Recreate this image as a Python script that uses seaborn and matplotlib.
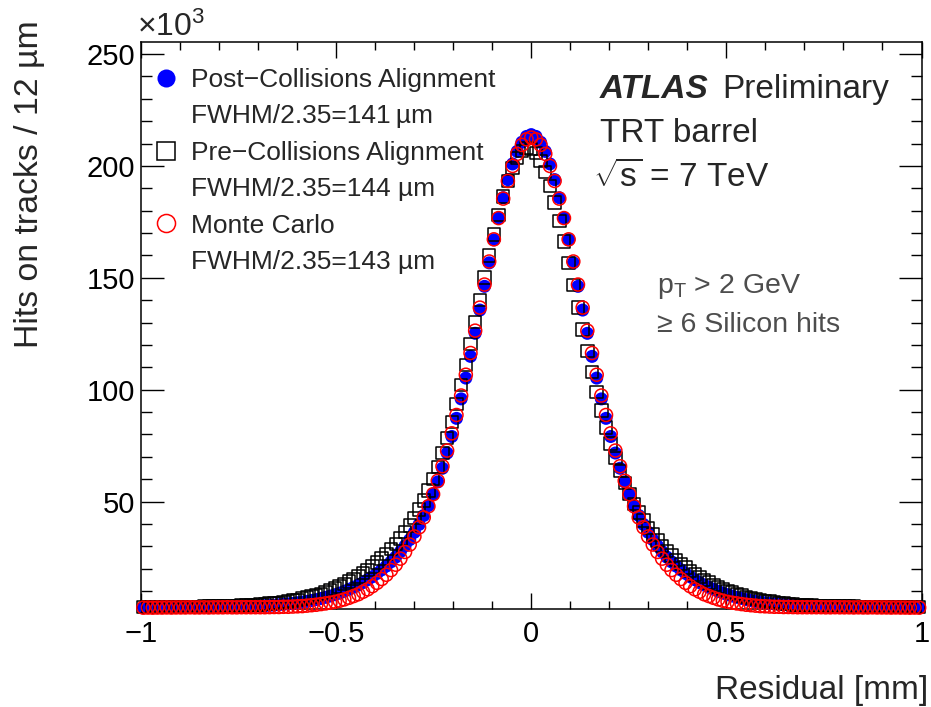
import numpy as np
import pandas as pd
import matplotlib
matplotlib.use("Agg")
import matplotlib.pyplot as plt
import seaborn as sns
from matplotlib.lines import Line2D
from matplotlib.ticker import MultipleLocator, FixedLocator, FixedFormatter

# ---------------- data (thousands of hits per 12 um bin) ----------------
n_bins = 167
x_range = (-1.0, 1.0)

post_counts = [
    2.7, 2.7, 2.7, 2.75, 2.75, 2.75, 2.8, 2.8, 2.8, 2.8, 2.8, 2.85, 2.85,
    2.85, 2.9, 2.9, 2.9, 2.95, 3.0, 3.0, 3.05, 3.1, 3.15,
    3.2, 3.3, 3.4, 3.5, 3.6, 3.7, 3.9, 4.1, 4.3, 4.5,
    4.8, 5.1, 5.4, 5.8, 6.2, 6.7, 7.2, 7.8, 8.4, 9.1,
    9.9, 10.8, 11.7, 12.7, 13.8, 15.1, 16.4, 17.9, 19.5, 21.2,
    23.1, 25.2, 27.6, 30.2, 33.0, 36.3, 39.8, 43.8, 48.2, 53.2,
    58.8, 64.9, 71.7, 79.1, 87.2, 95.9, 105.2, 114.9, 125.2, 135.6,
    146.2, 156.7, 167.0, 176.8, 185.8, 193.9, 200.9, 206.5, 210.6, 213.2,
    214.0,
    213.2, 210.6, 206.5, 200.9, 193.9, 185.8, 176.8, 167.0, 156.7, 146.2,
    135.6, 125.2, 114.9, 105.2, 95.9, 87.2, 79.1, 71.7, 64.9, 58.8,
    53.2, 48.2, 43.8, 39.8, 36.3, 33.0, 30.2, 27.6, 25.2, 23.1,
    21.2, 19.5, 17.9, 16.4, 15.1, 13.8, 12.7, 11.7, 10.8, 9.9,
    9.1, 8.4, 7.8, 7.2, 6.7, 6.2, 5.8, 5.4, 5.1, 4.8,
    4.5, 4.3, 4.1, 3.9, 3.7, 3.6, 3.5, 3.4, 3.3, 3.2,
    3.15, 3.1, 3.05, 3.0, 3.0, 2.95, 2.9, 2.9, 2.9, 2.85,
    2.85, 2.85, 2.8, 2.8, 2.8, 2.8, 2.8, 2.75, 2.75, 2.75, 2.7, 2.7, 2.7,
]

pre_counts = [
    2.8, 2.85, 2.85, 2.85, 2.9, 2.9, 2.9, 2.9, 2.95, 2.95, 3.0, 3.0, 3.0,
    3.05, 3.1, 3.1, 3.15, 3.2, 3.25, 3.3, 3.4, 3.5, 3.6,
    3.7, 3.8, 4.0, 4.2, 4.4, 4.6, 4.8, 5.1, 5.4, 5.8,
    6.1, 6.6, 7.1, 7.6, 8.2, 8.8, 9.5, 10.3, 11.2, 12.1,
    13.1, 14.2, 15.4, 16.6, 18.0, 19.5, 21.0, 22.7, 24.6, 26.5,
    28.7, 31.0, 33.5, 36.3, 39.3, 42.7, 46.4, 50.4, 55.0, 60.0,
    65.5, 71.6, 78.3, 85.6, 93.5, 102.0, 111.0, 120.4, 130.2, 140.2,
    150.1, 160.0, 169.4, 178.2, 186.3, 193.3, 199.2, 203.6, 206.6, 207.9,
    207.6,
    205.7, 202.3, 197.4, 191.1, 183.7, 175.4, 166.3, 156.7, 146.8, 136.8,
    126.9, 117.2, 107.9, 99.1, 90.8, 83.1, 76.0, 69.5, 63.6, 58.2,
    53.4, 49.0, 45.1, 41.5, 38.3, 35.3, 32.7, 30.2, 27.9, 25.9,
    23.9, 22.2, 20.5, 19.0, 17.5, 16.2, 15.0, 13.8, 12.7, 11.8,
    10.9, 10.0, 9.3, 8.6, 8.0, 7.4, 6.9, 6.4, 6.0, 5.6,
    5.3, 5.0, 4.7, 4.5, 4.3, 4.1, 3.9, 3.8, 3.65, 3.55,
    3.45, 3.4, 3.3, 3.25, 3.2, 3.15, 3.1, 3.05, 3.05, 3.0,
    3.0, 2.95, 2.95, 2.95, 2.9, 2.9, 2.9, 2.9, 2.85, 2.85, 2.85, 2.8, 2.8,
]

mc_counts = [
    2.6, 2.65, 2.6, 2.65, 2.65, 2.7, 2.65, 2.7, 2.7, 2.7, 2.75, 2.7, 2.7,
    2.75, 2.7, 2.75, 2.75, 2.75, 2.8, 2.75, 2.75, 2.8, 2.8,
    2.8, 2.8, 2.8, 2.8, 2.85, 2.9, 2.9, 3.0, 3.0, 3.1,
    3.2, 3.3, 3.5, 3.7, 3.9, 4.2, 4.5, 4.8, 5.2, 5.7,
    6.3, 7.0, 7.8, 8.6, 9.7, 10.8, 12.2, 13.7, 15.4, 17.3,
    19.4, 21.8, 24.5, 27.5, 30.8, 34.4, 38.5, 42.9, 47.9, 53.3,
    59.3, 65.8, 72.8, 80.5, 88.7, 97.4, 106.7, 116.4, 126.4, 136.7,
    147.0, 157.3, 167.2, 176.7, 185.4, 193.3, 200.0, 205.4, 209.4, 211.9,
    212.7,
    211.9, 209.4, 205.4, 200.0, 193.3, 185.4, 176.7, 167.2, 157.3, 147.0,
    136.7, 126.4, 116.4, 106.7, 97.4, 88.7, 80.5, 72.8, 65.8, 59.3,
    53.3, 47.9, 42.9, 38.5, 34.4, 30.8, 27.5, 24.5, 21.8, 19.4,
    17.3, 15.4, 13.7, 12.2, 10.8, 9.7, 8.6, 7.8, 7.0, 6.3,
    5.7, 5.2, 4.8, 4.5, 4.2, 3.9, 3.7, 3.5, 3.3, 3.2,
    3.1, 3.0, 3.0, 2.9, 2.9, 2.85, 2.8, 2.8, 2.8, 2.8,
    2.8, 2.8, 2.75, 2.75, 2.8, 2.75, 2.75, 2.75, 2.7, 2.75,
    2.7, 2.7, 2.75, 2.7, 2.7, 2.7, 2.65, 2.7, 2.65, 2.65, 2.6, 2.65, 2.6,
]

series_names = ["Post\u2212Collisions Alignment", "Pre\u2212Collisions Alignment", "Monte Carlo"]
fwhm_texts = ["FWHM/2.35=141\u2009\u00b5m", "FWHM/2.35=144 \u00b5m", "FWHM/2.35=143 \u00b5m"]
xtick_values = [-1.0, -0.5, 0.0, 0.5, 1.0]
xtick_labels = ["\u22121", "\u22120.5", "0", "0.5", "1"]
ytick_values = [50, 100, 150, 200, 250]

assert len(post_counts) == n_bins and len(pre_counts) == n_bins and len(mc_counts) == n_bins

# ---------------- style ----------------
sns.set_style("ticks")
plt.rcParams["font.family"] = ["Liberation Sans", "DejaVu Sans"]
plt.rcParams["mathtext.fontset"] = "custom"
plt.rcParams["mathtext.rm"] = "Liberation Sans"
plt.rcParams["mathtext.it"] = "Liberation Sans:italic"
plt.rcParams["mathtext.bf"] = "Liberation Sans:bold"
plt.rcParams["axes.unicode_minus"] = True

W, H = 931, 707
fig = plt.figure(figsize=(W / 100, H / 100), dpi=100)
ax_left, ax_right, ax_top, ax_bottom = 141, 921.5, 42, 609
ax = fig.add_axes([ax_left / W, 1 - ax_bottom / H, (ax_right - ax_left) / W, (ax_bottom - ax_top) / H])

edges = np.linspace(x_range[0], x_range[1], n_bins + 1)
centers = 0.5 * (edges[:-1] + edges[1:])
df = pd.DataFrame({"residual": centers, "post": post_counts, "pre": pre_counts, "mc": mc_counts})

sns.scatterplot(data=df, x="residual", y="post", ax=ax, marker="o", s=88,
                color="#0000ff", edgecolor="none", linewidth=0, clip_on=False, zorder=3, legend=False)
sns.scatterplot(data=df, x="residual", y="pre", ax=ax, marker="s", s=80,
                color="black", facecolor="none", edgecolor="black", linewidth=1.1,
                clip_on=False, zorder=4, legend=False)
sns.scatterplot(data=df, x="residual", y="mc", ax=ax, marker="o", s=88,
                color="#ff0000", facecolor="none", edgecolor="#ff0000", linewidth=1.1,
                clip_on=False, zorder=5, legend=False)

# ---------------- axes ----------------
ax.set_xlim(*x_range)
ax.set_ylim(2.0, 255.4)
ax.xaxis.set_major_locator(FixedLocator(xtick_values))
ax.xaxis.set_major_formatter(FixedFormatter(xtick_labels))
ax.xaxis.set_minor_locator(MultipleLocator(0.1))
ax.yaxis.set_major_locator(FixedLocator(ytick_values))
ax.yaxis.set_minor_locator(MultipleLocator(10))
ax.tick_params(which="both", direction="in", top=True, right=True, labelsize=21,
               width=1.0, color="black", labelcolor="black")
ax.tick_params(axis="x", which="major", length=11.5, pad=8)
ax.tick_params(axis="x", which="minor", length=5.8)
ax.tick_params(axis="y", which="major", length=16.5, pad=4)
ax.tick_params(axis="y", which="minor", length=7.9)
for sp in ax.spines.values():
    sp.set_linewidth(1.1)
    sp.set_color("black")

ax.set_xlabel("Residual [mm]", fontsize=24, loc="right")
ax.xaxis.set_label_coords(1.0 + 6.5 / (ax_right - ax_left), (ax_bottom - 675) / (ax_bottom - ax_top))
yl = ax.set_ylabel("Hits on tracks / 12 \u00b5m", fontsize=24.4, loc="top")
yl.set_va("center")
ax.yaxis.set_label_coords((30 - ax_left) / (ax_right - ax_left), 1 + 22 / (ax_bottom - ax_top))

fig.text(137 / W, 1 - 36 / H, "\u00d710$^{3}$", fontsize=23, va="baseline", ha="left")

# ---------------- legend ----------------
handles = [
    Line2D([], [], ls="none", marker="o", markersize=13, color="#0000ff", mec="none"),
    Line2D([], [], ls="none"),
    Line2D([], [], ls="none", marker="s", markersize=12.5, mfc="none", mec="black", mew=1.1),
    Line2D([], [], ls="none"),
    Line2D([], [], ls="none", marker="o", markersize=13, mfc="none", mec="#ff0000", mew=1.1),
    Line2D([], [], ls="none"),
]
labels = [series_names[0], fwhm_texts[0], series_names[1], fwhm_texts[1], series_names[2], fwhm_texts[2]]
ax.legend(handles, labels, loc="upper left", bbox_to_anchor=(12 / (ax_right - ax_left), 0.954),
          frameon=False, fontsize=19, handlelength=1.0, handletextpad=0.45,
          labelspacing=0.47, borderpad=0, borderaxespad=0)

# ---------------- annotations ----------------
fig.text(600 / W, 1 - 98 / H, "ATLAS", fontsize=24, fontweight="bold", fontstyle="italic", va="baseline")
fig.text(722 / W, 1 - 98 / H, "Preliminary", fontsize=24, va="baseline")
fig.text(600 / W, 1 - 142 / H, "TRT barrel", fontsize=24, va="baseline")
fig.text(593 / W, 1 - 187 / H, r"$\sqrt{\mathrm{s}}$ = 7 TeV", fontsize=24, va="baseline")
fig.text(657 / W, 1 - 293 / H, r"p$_{\mathrm{T}}$ > 2 GeV", fontsize=20.5, va="baseline", color="#4d4d4d")
fig.text(657 / W, 1 - 332 / H, "\u2265 6 Silicon hits", fontsize=20.5, va="baseline", color="#4d4d4d")

fig.savefig("out.png", dpi=100)
